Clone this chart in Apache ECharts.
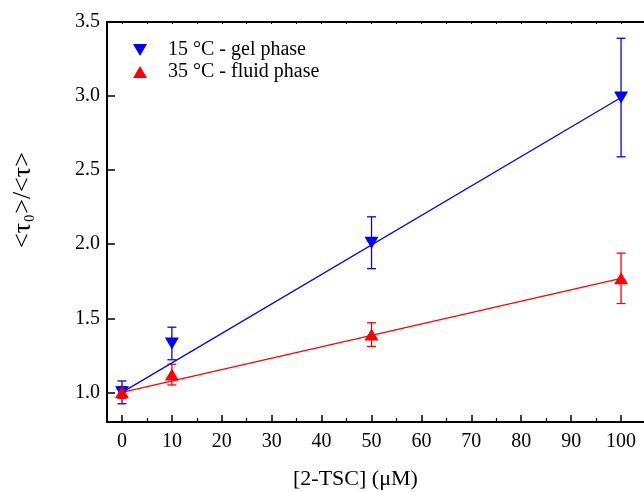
<!DOCTYPE html>
<html>
<head>
<meta charset="utf-8">
<script src="https://cdn.jsdelivr.net/npm/echarts@6/dist/echarts.min.js"></script>
<style>
  html, body { margin: 0; padding: 0; background: #fff; }
  #chart { width: 644px; height: 492px; }
</style>
</head>
<body>
<div id="chart"></div>
<script>
// concentration of 2-TSC (uM)
var conc = [0, 10, 50, 100];
// 15 C - gel phase
var gelVals = [1.0, 1.33, 2.01, 2.99];
var gelErr = [0.077, 0.11, 0.175, 0.40];
var gelFit = [[0, 1.0], [100, 2.99]];
// 35 C - fluid phase
var fluidVals = [1.0, 1.12, 1.39, 1.77];
var fluidErr = [0.04, 0.07, 0.08, 0.17];
var fluidFit = [[0, 1.0], [100, 1.77]];
// ticks
var xTicks = [0, 10, 20, 30, 40, 50, 60, 70, 80, 90, 100];
var xMinorTicks = [5, 15, 25, 35, 45, 55, 65, 75, 85, 95];
var yTicks = [1.0, 1.5, 2.0, 2.5, 3.0, 3.5];

var serif = '"Liberation Serif", "DejaVu Serif", serif';
var BLUE = '#0000ff', RED = '#ff0000';
var downTri = 'path://M0,0 L14,0 L7,12 Z';
var upTri = 'path://M7,0 L14,12 L0,12 Z';

function pairs(xs, ys) {
  return xs.map(function (x, i) { return [x, ys[i]]; });
}
function errData(xs, ys, es) {
  return xs.map(function (x, i) { return [x, ys[i] - es[i], ys[i] + es[i]]; });
}
function errRender(color) {
  return function (params, api) {
    var lo = api.coord([api.value(0), api.value(1)]);
    var hi = api.coord([api.value(0), api.value(2)]);
    var hw = 4.5;
    var st = { stroke: color, lineWidth: 1.3 };
    return {
      type: 'group',
      children: [
        { type: 'line', shape: { x1: lo[0], y1: lo[1], x2: hi[0], y2: hi[1] }, style: st },
        { type: 'line', shape: { x1: lo[0] - hw, y1: lo[1], x2: lo[0] + hw, y2: lo[1] }, style: st },
        { type: 'line', shape: { x1: hi[0] - hw, y1: hi[1], x2: hi[0] + hw, y2: hi[1] }, style: st }
      ]
    };
  };
}

var chart = echarts.init(document.getElementById('chart'));
chart.setOption({
  backgroundColor: '#ffffff',
  animation: false,
  grid: { left: 107, top: 22, width: 549, height: 400, outerBoundsMode: 'none', containLabel: false },
  legend: {
    orient: 'vertical',
    left: 128,
    top: 35,
    itemWidth: 14,
    itemHeight: 12,
    itemGap: 2,
    textStyle: { fontFamily: serif, fontSize: 20, color: '#000', padding: [0, 0, 0, 16] },
    data: [
      { name: '15 °C - gel phase', icon: downTri },
      { name: '35 °C - fluid phase', icon: upTri }
    ]
  },
  xAxis: [{
    type: 'value', min: -3, max: 107, position: 'bottom',
    splitLine: { show: false },
    axisLine: { onZero: false, lineStyle: { color: '#000', width: 2 } },
    axisTick: { inside: true, length: 7, customValues: xTicks, lineStyle: { color: '#000', width: 1.5 } },
    axisLabel: { customValues: xTicks, margin: 10, fontFamily: serif, fontSize: 20, color: '#000' }
  }, {
    type: 'value', min: -3, max: 107, position: 'bottom',
    splitLine: { show: false },
    axisLine: { show: false, onZero: false },
    axisTick: { inside: true, length: 4, customValues: xMinorTicks, lineStyle: { color: '#000', width: 1.2 } },
    axisLabel: { show: false }
  }, {
    type: 'value', min: -3, max: 107, position: 'top',
    splitLine: { show: false },
    axisLine: { onZero: false, lineStyle: { color: '#000', width: 2 } },
    axisTick: { inside: true, length: 2, customValues: xTicks.concat(xMinorTicks), lineStyle: { color: '#000', width: 1 } },
    axisLabel: { show: false }
  }],
  yAxis: {
    type: 'value', min: 0.8, max: 3.5, position: 'left',
    splitLine: { show: false },
    axisLine: { show: true, onZero: false, lineStyle: { color: '#000', width: 2 } },
    axisTick: { show: true, inside: true, length: 8, customValues: yTicks, lineStyle: { color: '#000', width: 1.5 } },
    axisLabel: {
      customValues: yTicks, margin: 7, fontFamily: serif, fontSize: 20, color: '#000',
      formatter: function (v) { return v.toFixed(1); }
    }
  },
  graphic: [{
    type: 'text', left: 293, top: 468,
    style: { text: '[2-TSC] (μM)', font: '22px ' + serif, fill: '#000' }
  }, {
    type: 'text', x: 23, y: 200, rotation: Math.PI / 2,
    style: {
      text: '{a|<τ}{s|0}{a|>/<τ>}',
      align: 'center', verticalAlign: 'middle',
      rich: {
        a: { fontFamily: serif, fontSize: 26, fill: '#000' },
        s: { fontFamily: serif, fontSize: 14, fill: '#000', padding: [14, 1, 0, 1] }
      }
    }
  }],
  series: [{
    type: 'custom', name: 'gelErr', xAxisIndex: 0,
    renderItem: errRender(BLUE),
    data: errData(conc, gelVals, gelErr), z: 1
  }, {
    type: 'custom', name: 'fluidErr', xAxisIndex: 0,
    renderItem: errRender(RED),
    data: errData(conc, fluidVals, fluidErr), z: 1
  }, {
    type: 'line', name: 'gelFit', data: gelFit, showSymbol: false,
    lineStyle: { color: BLUE, width: 1.3 }, z: 2
  }, {
    type: 'line', name: 'fluidFit', data: fluidFit, showSymbol: false,
    lineStyle: { color: RED, width: 1.3 }, z: 2
  }, {
    type: 'scatter', name: '15 °C - gel phase', data: pairs(conc, gelVals),
    symbol: 'triangle', symbolRotate: 180, symbolSize: [14, 12],
    itemStyle: { color: BLUE, opacity: 1 }, z: 3
  }, {
    type: 'scatter', name: '35 °C - fluid phase', data: pairs(conc, fluidVals),
    symbol: 'triangle', symbolSize: [14, 12],
    itemStyle: { color: RED, opacity: 1 }, z: 4
  }]
});
</script>
</body>
</html>
